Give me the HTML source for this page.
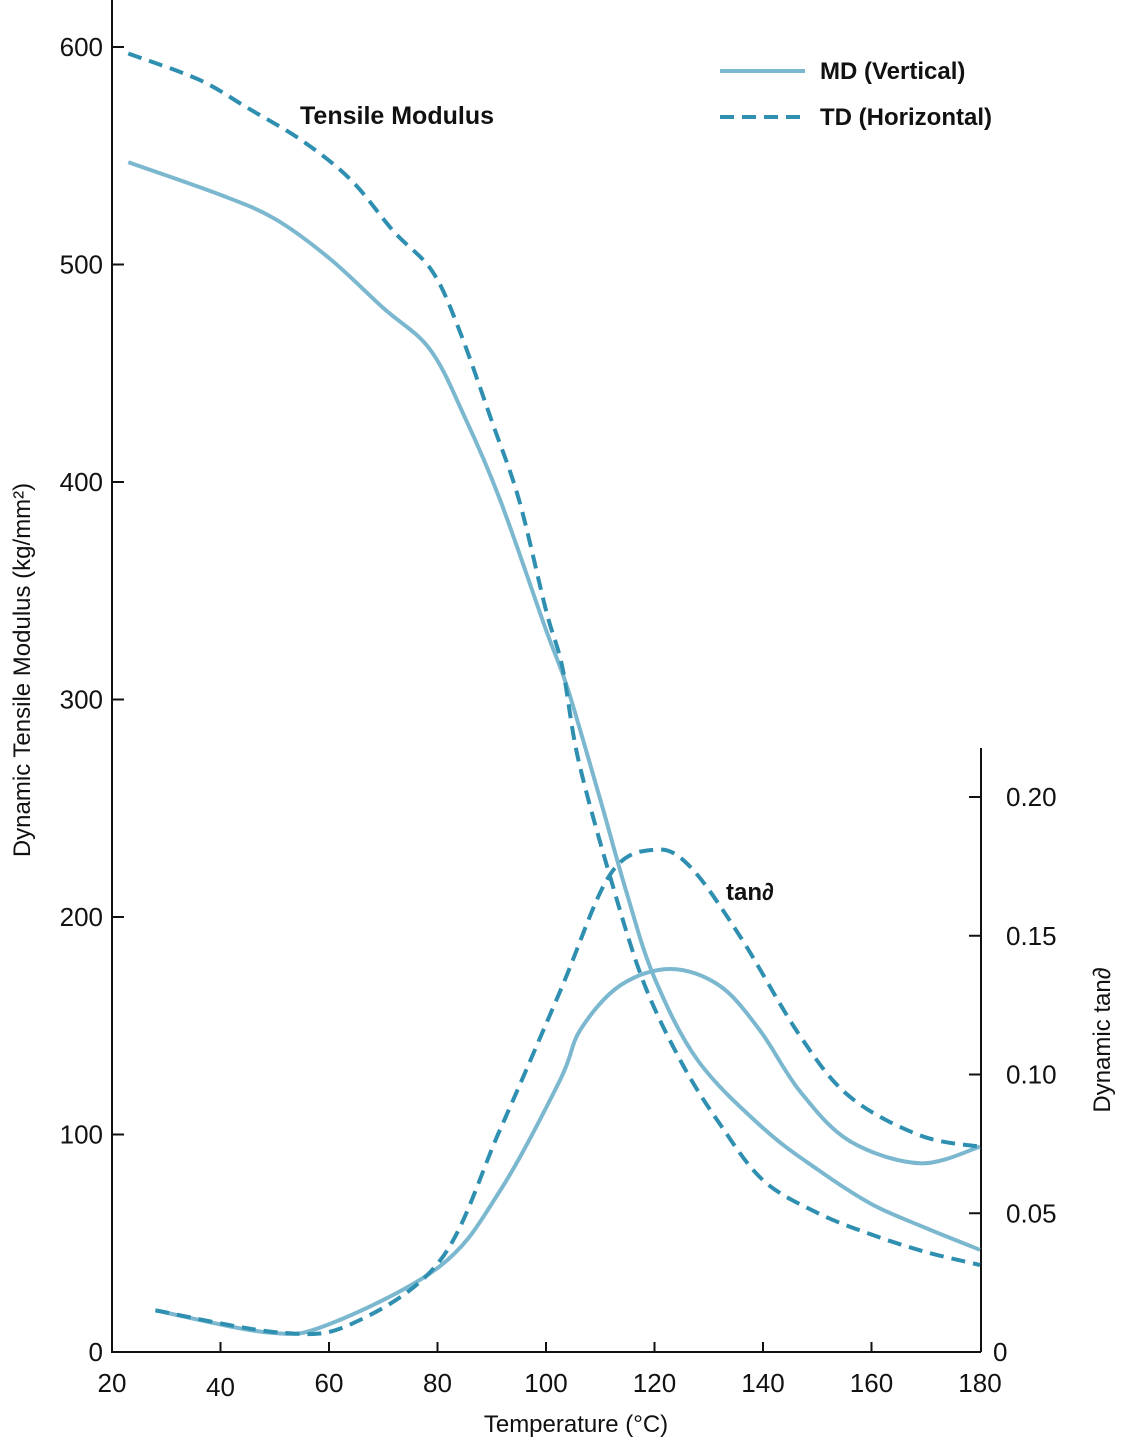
<!DOCTYPE html>
<html><head><meta charset="utf-8"><style>
html,body{margin:0;padding:0;background:#fff;}
svg{display:block;font-family:"Liberation Sans",sans-serif;}
</style></head><body>
<svg id="chart" width="1121" height="1441" viewBox="0 0 1121 1441" xmlns="http://www.w3.org/2000/svg">
<g id="axes"></g>
<g id="series"></g>
<text x="300" y="124" font-size="25" font-weight="bold" fill="#111">Tensile Modulus</text>
<text x="726" y="900" font-size="24" font-weight="bold" fill="#111">tan∂</text>
<g>
<line x1="720" y1="71" x2="805" y2="71" stroke="#7bb8cf" stroke-width="4"/>
<text x="820" y="79" font-size="24" font-weight="bold" fill="#111">MD (Vertical)</text>
<line x1="720" y1="117" x2="805" y2="117" stroke="#2f8fb0" stroke-width="4" stroke-dasharray="14,8"/>
<text x="820" y="125" font-size="24" font-weight="bold" fill="#111">TD (Horizontal)</text>
</g>
<text x="576" y="1432" font-size="24" text-anchor="middle" fill="#111">Temperature (°C)</text>
<text transform="translate(30,670) rotate(-90)" font-size="24" text-anchor="middle" fill="#111">Dynamic Tensile Modulus (kg/mm²)</text>
<text transform="translate(1110,1040) rotate(-90)" font-size="24" text-anchor="middle" fill="#111">Dynamic tan∂</text>
</svg>
<script>
const xTicks=[20,40,60,80,100,120,140,160,180];
const yTicks=[0,100,200,300,400,500,600];
const y2Ticks=[0,0.05,0.10,0.15,0.20];
const y2Labels=["0","0.05","0.10","0.15","0.20"];
const mdModT=[23,40,50,60,70,78.6,85,91.5,100,104,110,115,120,128,140,150,160,170,180];
const mdModV=[547,532,521,503,480,461,430,392,332,305,254,210,172,134,103,84,68,57,47];
const tdModT=[23,36,45,55,64,72,79,84,90,95,100,103,106,112,118,125,132,140,150,160,170,180];
const tdModV=[597,585,572,557,539,515,497,470,428,392,341,315,272,217,170,133,105,79,64,54,46,40];
const mdTanT=[28,49,60,80.5,91.5,102.6,106.3,113.6,122.9,132,139.4,146.8,156,169,180];
const mdTanV=[0.015,0.007,0.010,0.031,0.058,0.098,0.116,0.132,0.138,0.132,0.116,0.094,0.076,0.068,0.074];
const tdTanT=[28,51,64,80.5,91.5,102.6,111.8,120,126.5,135.7,146.8,156,169,180];
const tdTanV=[0.015,0.007,0.010,0.033,0.080,0.130,0.172,0.181,0.175,0.150,0.114,0.092,0.078,0.074];

const X=t=>112+(t-20)*(868/160);
const Y=v=>1352-v*2.175;
const Y2=v=>1352-v*2775;
const NS='http://www.w3.org/2000/svg';
function mk(tag,attrs,parent){const e=document.createElementNS(NS,tag);for(const k in attrs)e.setAttribute(k,attrs[k]);parent.appendChild(e);return e;}
const ax=document.getElementById('axes'), se=document.getElementById('series');
let l=mk('line',{x1:112,y1:0,x2:112,y2:1352,stroke:'#111','stroke-width':2},ax);


l=mk('line',{x1:111,y1:1352,x2:981,y2:1352,stroke:'#111','stroke-width':2},ax);


l=mk('line',{x1:981,y1:748,x2:981,y2:1352,stroke:'#111','stroke-width':2},ax);


xTicks.forEach((t,i)=>{
  const x=X(t);
  if(i>0&&i<xTicks.length-1){const tk=mk('line',{x1:x,y1:1352,x2:x,y2:1342,stroke:'#111','stroke-width':2},ax);
  
  }
  const tx=mk('text',{x:x,y:(t===40?1396:1392),'font-size':26,'text-anchor':'middle',fill:'#111'},ax);
  tx.textContent=t;
  
  
});
yTicks.forEach(v=>{
  const y=Y(v);
  const tk=mk('line',{x1:112,y1:y,x2:124,y2:y,stroke:'#111','stroke-width':2},ax);
  
  
  const tx=mk('text',{x:103,y:y+9,'font-size':26,'text-anchor':'end',fill:'#111'},ax);
  tx.textContent=v;
  
  
});
y2Ticks.forEach((v,i)=>{
  const y=Y2(v);
  const tk=mk('line',{x1:969,y1:y,x2:981,y2:y,stroke:'#111','stroke-width':2},ax);
  
  
  const tx=mk('text',{x:(v===0?993:1006),y:y+9,'font-size':26,'text-anchor':'start',fill:'#111'},ax);
  tx.textContent=y2Labels[i];
  
  
});
function pathD(ts,vs,yf){
  const p=ts.map((t,i)=>[X(t),yf(vs[i])]);
  let d='M'+p[0][0].toFixed(1)+','+p[0][1].toFixed(1);
  for(let i=0;i<p.length-1;i++){
    const p0=p[i-1]||p[i],p1=p[i],p2=p[i+1],p3=p[i+2]||p[i+1];
    const c1=[p1[0]+(p2[0]-p0[0])/6,p1[1]+(p2[1]-p0[1])/6];
    const c2=[p2[0]-(p3[0]-p1[0])/6,p2[1]-(p3[1]-p1[1])/6];
    d+=' C'+c1.map(n=>n.toFixed(1))+' '+c2.map(n=>n.toFixed(1))+' '+p2.map(n=>n.toFixed(1));
  }
  return d;
}
function draw(ts,vs,yf,color,dash,name){
  const a={d:pathD(ts,vs,yf),fill:'none',stroke:color,'stroke-width':4,'stroke-linecap':'butt'};
  if(dash)a['stroke-dasharray']='14,8';
  const p=mk('path',a,se);
  
  
}
draw(mdModT,mdModV,Y,'#7bb8cf',false,'md-modulus-line');
draw(tdModT,tdModV,Y,'#2f8fb0',true,'td-modulus-line');
draw(mdTanT,mdTanV,Y2,'#7bb8cf',false,'md-tan-delta-line');
draw(tdTanT,tdTanV,Y2,'#2f8fb0',true,'td-tan-delta-line');
</script>
</body></html>
